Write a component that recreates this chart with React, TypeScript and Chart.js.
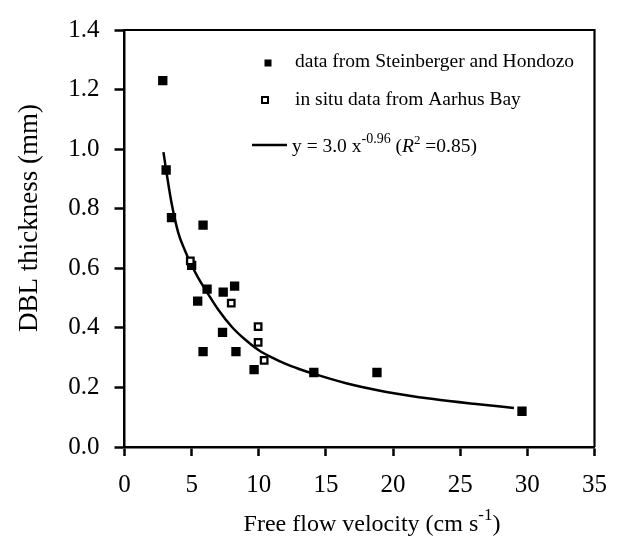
import React, { useEffect, useRef } from "react";
import { Chart, registerables } from "chart.js";

Chart.register(...registerables);

// Steinberger and Hondozo data (filled squares)
const shX = [2.85, 3.1, 3.5, 5.0, 5.45, 5.85, 6.15, 7.35, 8.2, 7.3, 5.85, 8.3, 9.65, 14.1, 18.8, 29.6];
const shY = [1.23, 0.93, 0.77, 0.61, 0.49, 0.745, 0.53, 0.52, 0.54, 0.385, 0.32, 0.32, 0.26, 0.25, 0.25, 0.12];

// In situ data from Aarhus Bay (open squares)
const abX = [4.9, 7.95, 9.95, 9.95, 10.4];
const abY = [0.625, 0.483, 0.404, 0.351, 0.291];

// Fitted power curve
const fitX = [2.9, 3.1, 3.5, 4.0, 4.5, 5.0, 5.5, 6.0, 7.0, 8.0, 9.0, 10.0, 11.0, 12.0, 13.0, 14.0, 16.5, 19.5, 23.0, 26.0, 29.0];
const fitY = [0.99, 0.93, 0.82, 0.72, 0.66, 0.61, 0.567, 0.53, 0.46, 0.403, 0.36, 0.325, 0.3, 0.279, 0.262, 0.247, 0.214, 0.185, 0.161, 0.145, 0.131];

const xTicks = [0, 5, 10, 15, 20, 25, 30, 35];
const yTicks = [0, 0.2, 0.4, 0.6, 0.8, 1.0, 1.2, 1.4];

const legendLabels = ["data from Steinberger and Hondozo", "in situ data from Aarhus Bay"];
const xTitle = "Free flow velocity (cm s";
const yTitle = "DBL thickness (mm)";

const SERIF = "'Liberation Serif', 'Times New Roman', serif";

const overlay = {
  id: "overlay",
  afterDraw(chart: any) {
    const ctx: CanvasRenderingContext2D = chart.ctx;
    const a = chart.chartArea;
    ctx.save();
    // top & right frame
    ctx.strokeStyle = "#000";
    ctx.lineWidth = 2.2;
    ctx.beginPath();
    ctx.moveTo(a.left, a.top);
    ctx.lineTo(a.right, a.top);
    ctx.lineTo(a.right, a.bottom);
    ctx.stroke();

    ctx.fillStyle = "#000";
    ctx.textBaseline = "alphabetic";
    ctx.textAlign = "left";

    // legend
    ctx.fillRect(268 - 3.5, 63 - 3.5, 7, 7);
    ctx.lineWidth = 2;
    ctx.strokeRect(265 - 3, 100 - 3, 6, 6);
    ctx.font = `19.5px ${SERIF}`;
    ctx.fillText(legendLabels[0], 295, 67);
    ctx.fillText(legendLabels[1], 295, 105);
    ctx.lineWidth = 2.5;
    ctx.beginPath();
    ctx.moveTo(252, 145);
    ctx.lineTo(287, 145);
    ctx.stroke();
    let x = 292;
    const by = 152;
    const seg = (t: string, font: string, dy: number) => {
      ctx.font = font;
      ctx.fillText(t, x, by + dy);
      x += ctx.measureText(t).width;
    };
    seg("y = 3.0 x", `19.5px ${SERIF}`, 0);
    seg("-0.96", `14px ${SERIF}`, -9);
    seg(" (", `19.5px ${SERIF}`, 0);
    seg("R", `italic 19.5px ${SERIF}`, 0);
    seg("2", `13px ${SERIF}`, -8);
    seg(" =0.85)", `19.5px ${SERIF}`, 0);

    // x title with superscript
    ctx.font = `24px ${SERIF}`;
    const w1 = ctx.measureText(xTitle).width;
    ctx.font = `17px ${SERIF}`;
    const w2 = ctx.measureText("-1").width;
    ctx.font = `24px ${SERIF}`;
    const w3 = ctx.measureText(")").width;
    const total = w1 + w2 + w3;
    let tx = 372 - total / 2;
    const ty = 531;
    ctx.fillText(xTitle, tx, ty);
    tx += w1;
    ctx.font = `17px ${SERIF}`;
    ctx.fillText("-1", tx, ty - 11);
    tx += w2;
    ctx.font = `24px ${SERIF}`;
    ctx.fillText(")", tx, ty);

    // y title
    ctx.translate(37, 218);
    ctx.rotate(-Math.PI / 2);
    ctx.textAlign = "center";
    ctx.font = `27px ${SERIF}`;
    ctx.fillText(yTitle, 0, 0);
    ctx.restore();
  },
};

export default function App() {
  const ref = useRef<HTMLCanvasElement | null>(null);
  useEffect(() => {
    document.body.style.margin = "0";
    const canvas = ref.current;
    if (!canvas) return;
    const chart = new Chart(canvas, {
      type: "scatter",
      data: {
        datasets: [
          {
            type: "line",
            label: "fit",
            data: fitX.map((v, i) => ({ x: v, y: fitY[i] })),
            borderColor: "#000",
            borderWidth: 2.5,
            pointRadius: 0,
            fill: false,
            cubicInterpolationMode: "monotone",
            order: 3,
          } as any,
          {
            label: legendLabels[0],
            data: shX.map((v, i) => ({ x: v, y: shY[i] })),
            pointStyle: "rect",
            pointRadius: 6.6,
            backgroundColor: "#000",
            borderColor: "#000",
            borderWidth: 0,
            order: 2,
          },
          {
            label: legendLabels[1],
            data: abX.map((v, i) => ({ x: v, y: abY[i] })),
            pointStyle: "rect",
            pointRadius: 4.6,
            backgroundColor: "#fff",
            borderColor: "#000",
            borderWidth: 2.3,
            order: 1,
          },
        ],
      },
      options: {
        animation: false,
        responsive: false,
        layout: { padding: { top: 20, right: 22, left: 0, bottom: 0 } },
        plugins: { legend: { display: false }, tooltip: { enabled: false } },
        scales: {
          x: {
            type: "linear",
            min: xTicks[0],
            max: xTicks[xTicks.length - 1],
            afterBuildTicks: (s: any) => {
              s.ticks = xTicks.map((v) => ({ value: v }));
            },
            afterFit: (s: any) => {
              s.height = 96;
            },
            ticks: {
              color: "#000",
              font: { family: SERIF, size: 25 },
              padding: 14,
              maxRotation: 0,
              callback: (v: any) => String(v),
            },
            grid: {
              drawOnChartArea: false,
              drawTicks: true,
              tickLength: 9,
              tickWidth: 2.5,
              tickColor: "#000",
            },
            border: { display: true, color: "#000", width: 2.5 },
          },
          y: {
            type: "linear",
            min: yTicks[0],
            max: yTicks[yTicks.length - 1],
            afterBuildTicks: (s: any) => {
              s.ticks = yTicks.map((v) => ({ value: v }));
            },
            afterFit: (s: any) => {
              s.width = 124.5;
            },
            ticks: {
              color: "#000",
              font: { family: SERIF, size: 25 },
              padding: 15,
              callback: (v: any) => Number(v).toFixed(1),
            },
            grid: {
              drawOnChartArea: false,
              drawTicks: true,
              tickLength: 10,
              tickWidth: 2.5,
              tickColor: "#000",
            },
            border: { display: true, color: "#000", width: 2.5 },
          },
        },
      } as any,
      plugins: [overlay],
    });
    return () => chart.destroy();
  }, []);
  return (
    <div style={{ width: 621, height: 543, background: "#fff" }}>
      <canvas ref={ref} width={621} height={543} style={{ display: "block" }} />
    </div>
  );
}
